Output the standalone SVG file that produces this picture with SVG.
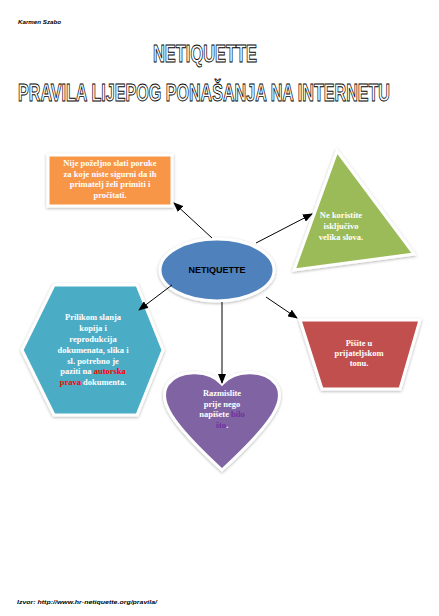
<svg xmlns="http://www.w3.org/2000/svg" width="439" height="616" viewBox="0 0 439 616">
<defs>
<style>
.shape{stroke:#fff;stroke-width:3;filter:url(#sh)}
.t{font-family:"Liberation Serif","Times New Roman",serif;font-weight:bold;font-size:8.5px;fill:#fff;text-anchor:middle}
.title{font-family:"Liberation Sans",Arial,sans-serif;font-weight:bold;font-size:23px;fill:#fff;stroke:#000;stroke-width:0.9}
.small{font-family:"Liberation Sans",Arial,sans-serif;font-style:italic;font-weight:bold;font-size:6px;fill:#000}
.con{stroke:#000;stroke-width:1;fill:none;marker-end:url(#ah)}
</style>
<filter id="sh" x="-20%" y="-20%" width="140%" height="140%">
<feDropShadow dx="0" dy="1" stdDeviation="1.5" flood-color="#000" flood-opacity="0.3"/>
</filter>
<marker id="ah" markerWidth="10" markerHeight="8" refX="9" refY="4" orient="auto" markerUnits="userSpaceOnUse">
<path d="M0,0 L10,4 L0,8 Z" fill="#000"/>
</marker>
</defs>
<rect width="439" height="616" fill="#fff"/>
<text class="small" x="18" y="24" textLength="43" lengthAdjust="spacingAndGlyphs">Karmen Szabo</text>
<text class="title" x="153" y="62" textLength="104" lengthAdjust="spacingAndGlyphs">NETIQUETTE</text>
<text class="title" x="18" y="101" textLength="372" lengthAdjust="spacingAndGlyphs">PRAVILA LIJEPOG PONAŠANJA NA INTERNETU</text>

<g id="node-orange">
<rect class="shape" x="48" y="155" width="124" height="51" fill="#F79646"/>
<text class="t"><tspan x="110" y="166">Nije poželjno slati poruke</tspan><tspan x="110" y="176.5">za koje niste sigurni da ih</tspan><tspan x="110" y="187">primatelj želi primiti i</tspan><tspan x="110" y="197.5">pročitati.</tspan></text>
</g>

<g id="node-triangle">
<polygon class="shape" points="337,151 414,254 294,270" fill="#9BBB59"/>
<text class="t"><tspan x="341" y="218">Ne koristite</tspan><tspan x="341" y="229">isključivo</tspan><tspan x="341" y="240">velika slova.</tspan></text>
</g>

<g id="node-center">
<ellipse class="shape" cx="217" cy="270" rx="57" ry="31" fill="#4F81BD"/>
<text x="217" y="273" text-anchor="middle" font-family="Liberation Sans, Arial, sans-serif" font-weight="bold" font-size="9" fill="#000">NETIQUETTE</text>
</g>

<g id="node-hexagon">
<polygon class="shape" points="54,285 137,285 163,350 137,415 54,415 22,350" fill="#4BACC6"/>
<text class="t"><tspan x="93" y="320">Prilikom slanja</tspan><tspan x="93" y="331">kopija i</tspan><tspan x="93" y="342">reprodukcija</tspan><tspan x="93" y="353">dokumenata, slika i</tspan><tspan x="93" y="364">sl. potrebno je</tspan><tspan x="93" y="374">paziti na <tspan fill="#FF0000">autorska</tspan></tspan><tspan x="93" y="384.5"><tspan fill="#FF0000">prava</tspan> dokumenta.</tspan></text>
</g>

<g id="node-trapezoid">
<polygon class="shape" points="300,320 420,320 400,389 322,389" fill="#C0504D"/>
<text class="t"><tspan x="359" y="346">Pišite u</tspan><tspan x="359" y="356">prijateljskom</tspan><tspan x="359" y="366">tonu.</tspan></text>
</g>

<g id="node-heart">
<path class="shape" d="M222,384 C210,370 180,368 168,384 C157,400 170,422 222,470 C274,422 287,400 276,384 C264,368 234,370 222,384 Z" fill="#8064A2"/>
<text class="t"><tspan x="222" y="396">Razmislite</tspan><tspan x="222" y="407">prije nego</tspan><tspan x="222" y="417">napišete <tspan fill="#7030A0">bilo</tspan></tspan><tspan x="222" y="428"><tspan fill="#7030A0">što</tspan>.</tspan></text>
</g>

<g id="connectors">
<line class="con" x1="212" y1="238" x2="174" y2="203"/>
<line class="con" x1="256" y1="243" x2="312" y2="214"/>
<line class="con" x1="172" y1="285" x2="139" y2="310"/>
<line class="con" x1="266" y1="297" x2="297" y2="318"/>
<line class="con" x1="222" y1="302" x2="222" y2="383"/>
</g>

<text class="small" x="17" y="604" textLength="140" lengthAdjust="spacingAndGlyphs">Izvor: http://www.hr-netiquette.org/pravila/</text>
</svg>
